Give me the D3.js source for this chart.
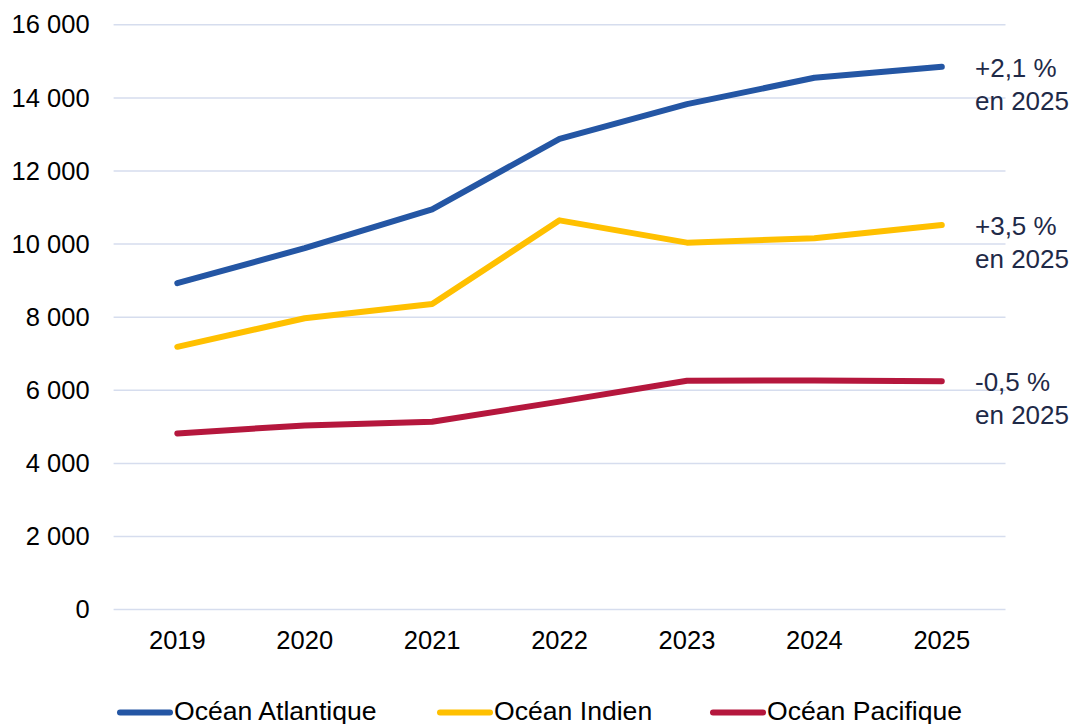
<!DOCTYPE html>
<html><head><meta charset="utf-8">
<script src="https://cdn.jsdelivr.net/npm/d3@7"></script>
<style>
html,body{margin:0;padding:0;background:#fff;}
svg text{font-family:"Liberation Sans",Arial,sans-serif;}
</style></head>
<body>
<svg id="chart" width="1074" height="724"></svg>
<script>
const years = ["2019","2020","2021","2022","2023","2024","2025"];
const atlantique = [8930, 9890, 10950, 12880, 13830, 14550, 14850];
const indien = [7190, 7970, 8360, 10650, 10040, 10160, 10520];
const pacifique = [4820, 5040, 5140, 5690, 6260, 6270, 6250];
const seriesNames = ["Océan Atlantique", "Océan Indien", "Océan Pacifique"];
const seriesColors = ["#2456A4", "#FFC000", "#B5173D"];
const annotations = [["+2,1 %", "en 2025"], ["+3,5 %", "en 2025"], ["-0,5 %", "en 2025"]];
const yTicks = [0, 2000, 4000, 6000, 8000, 10000, 12000, 14000, 16000];

(function(){
const series = [atlantique, indien, pacifique];
const svg = d3.select("#chart");
const mLeft = 113.6, mRight = 1005.5, mTop = 24.8, mBottom = 609.6;

const x = d3.scaleBand().domain(years).range([mLeft, mRight]);
const y = d3.scaleLinear().domain([0, 16000]).range([mBottom, mTop]);
const fmt = v => d3.format(",")(v).replace(/,/g, " ");

// gridlines
svg.append("g").selectAll("line").data(yTicks).join("line")
  .attr("x1", mLeft).attr("x2", mRight)
  .attr("y1", d => y(d)).attr("y2", d => y(d))
  .attr("stroke", "#D6DDEE").attr("stroke-width", 1.5);

// y axis labels
const yAxis = svg.append("g").attr("transform", `translate(${mLeft},0)`)
  .call(d3.axisLeft(y).tickValues(yTicks).tickFormat(fmt).tickSize(0).tickPadding(24));
yAxis.select(".domain").remove();
yAxis.selectAll("text").attr("font-size", 25.5).attr("fill", "#000")
  .attr("font-family", "Liberation Sans, Arial, sans-serif");

// x axis labels
const xAxis = svg.append("g").attr("transform", `translate(0,${mBottom})`)
  .call(d3.axisBottom(x).tickSize(0).tickPadding(21));
xAxis.select(".domain").remove();
xAxis.selectAll("text").attr("font-size", 25.5).attr("fill", "#000")
  .attr("font-family", "Liberation Sans, Arial, sans-serif");

// lines
const line = d3.line().x((d, i) => x(years[i]) + x.bandwidth() / 2).y(d => y(d));
series.forEach((s, k) => {
  svg.append("path").datum(s).attr("d", line)
    .attr("fill", "none").attr("stroke", seriesColors[k])
    .attr("stroke-width", 6).attr("stroke-linecap", "round").attr("stroke-linejoin", "round");
});

// annotations
series.forEach((s, k) => {
  const yy = y(s[s.length - 1]);
  const t = svg.append("text").attr("x", 975).attr("y", yy + 10)
    .attr("font-size", 26).attr("fill", "#1F2A48");
  t.append("tspan").attr("x", 975).attr("dy", 0).text(annotations[k][0]);
  t.append("tspan").attr("x", 975).attr("dy", 33).text(annotations[k][1]);
});

// legend
const legendX = [117, 437, 710];
seriesNames.forEach((n, k) => {
  const g = svg.append("g").attr("transform", `translate(${legendX[k]},712.5)`);
  g.append("line").attr("x1", 3).attr("x2", 53).attr("y1", 0).attr("y2", 0)
    .attr("stroke", seriesColors[k]).attr("stroke-width", 6).attr("stroke-linecap", "round");
  g.append("text").attr("x", 57).attr("y", 7).attr("font-size", 26.6).attr("fill", "#000").text(n);
});
})();
</script>
</body></html>
